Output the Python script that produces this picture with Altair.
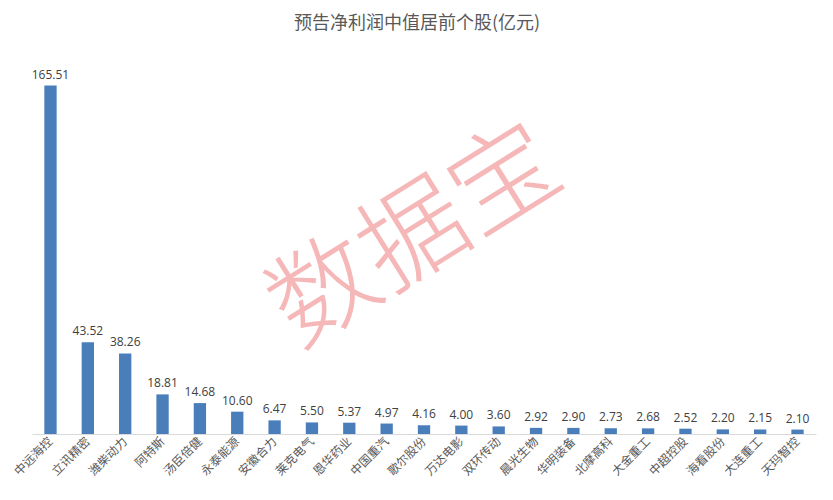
import altair as alt
import pandas as pd

companies = ["中远海控", "立讯精密", "潍柴动力", "阿特斯", "汤臣倍健", "永泰能源", "安徽合力",
             "莱克电气", "恩华药业", "中国重汽", "歌尔股份", "万达电影", "双环传动", "晨光生物",
             "华明装备", "北摩高科", "大金重工", "中超控股", "海看股份", "大连重工", "天玛智控"]
profits = [165.51, 43.52, 38.26, 18.81, 14.68, 10.60, 6.47, 5.50, 5.37, 4.97, 4.16, 4.00,
           3.60, 2.92, 2.90, 2.73, 2.68, 2.52, 2.20, 2.15, 2.10]

title_text = "预告净利润中值居前个股(亿元)"
watermark = ["数据宝"]

df = pd.DataFrame({"company": companies, "profit": profits,
                   "label": [f"{v:.2f}" for v in profits]})

font = "Noto Sans CJK SC"

x = alt.X("company:N", sort=companies, title=None,
          scale=alt.Scale(paddingInner=0.67, paddingOuter=0.33),
          axis=alt.Axis(labelAngle=315, labelAlign="right", labelBaseline="middle",
                        labelFontSize=12, labelColor="#595959", labelFont=font,
                        ticks=False, domainColor="#d9d9d9", labelPadding=5))
y = alt.Y("profit:Q", scale=alt.Scale(domain=[0, 180]), axis=None)

bars = alt.Chart(df).mark_bar(color="#4a7ebb").encode(x=x, y=y)
texts = alt.Chart(df).mark_text(dy=-11, fontSize=12, color="#404040", font="Open Sans").encode(
    x=x, y=y, text="label:N")

wm = alt.Chart(pd.DataFrame({"t": watermark})).mark_text(
    angle=328, fontSize=106, color="#f29a9a", opacity=0.7, font=font, fontWeight=300
).encode(x=alt.value(384), y=alt.value(183), text="t:N")

chart = alt.layer(bars, texts, wm).properties(
    width=784, height=379,
    padding={"left": 24, "top": 47, "right": 9, "bottom": 66},
    autosize=alt.AutoSizeParams(type="none"),
    title=alt.TitleParams(title_text, fontSize=18, color="#595959", font=font,
                          fontWeight="normal", anchor="middle", offset=22, dx=-7),
).configure_view(stroke=None)

chart.save("out.html", embed_options={"renderer": "svg", "actions": False})
